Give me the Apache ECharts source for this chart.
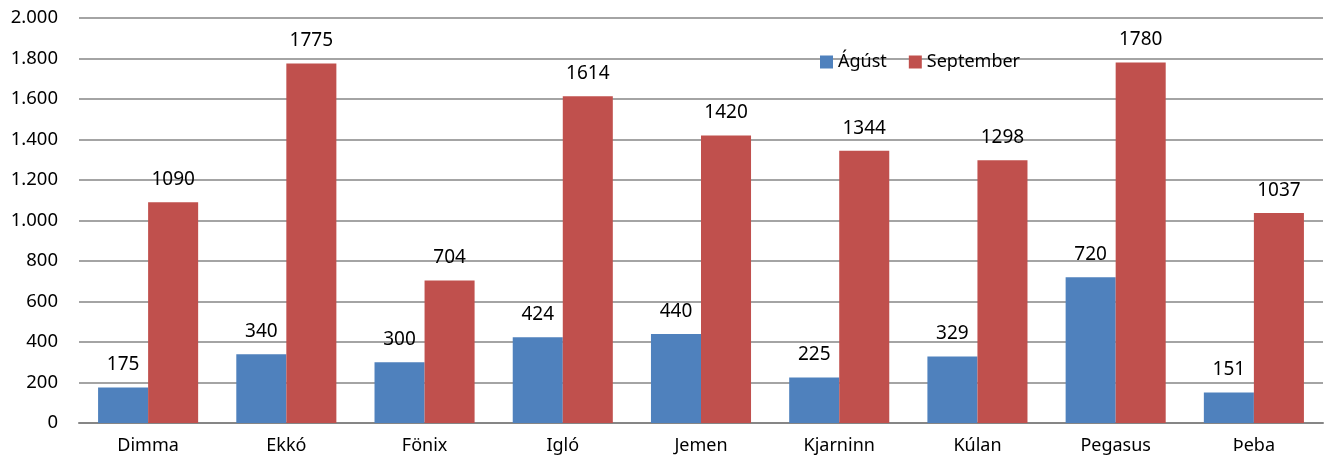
<!DOCTYPE html>
<html><head><meta charset="utf-8">
<script src="https://cdn.jsdelivr.net/npm/echarts@6/dist/echarts.min.js"></script>
<style>html,body{margin:0;padding:0;background:#fff}#c{width:1327px;height:462px}</style>
</head><body><div id="c"></div>
<script>
const categories = ["Dimma","Ekkó","Fönix","Igló","Jemen","Kjarninn","Kúlan","Pegasus","Þeba"];
const agust = [175,340,300,424,440,225,329,720,151];
const september = [1090,1775,704,1614,1420,1344,1298,1780,1037];
const seriesNames = ["Ágúst","September"];
const yTicks = {min:0, max:2000, interval:200};

const font = "Noto Sans";
const chart = echarts.init(document.getElementById('c'));
const lbl = {show:true, position:'top', distance:13, color:'#000', fontFamily:font, fontSize:19};
chart.setOption({
  animation:false,
  textStyle:{fontFamily:font},
  legend:{left:815, top:48, itemWidth:13, itemHeight:13, itemGap:22, icon:'rect',
    textStyle:{fontFamily:font, fontSize:18, color:'#000'},
    data:seriesNames},
  grid:{left:79, right:4, top:18, bottom:39},
  xAxis:{type:'category', data:categories,
    axisLine:{lineStyle:{color:'#868686', width:2}},
    axisTick:{show:false},
    axisLabel:{color:'#000', fontFamily:font, fontSize:18, margin:14}},
  yAxis:{type:'value', min:yTicks.min, max:yTicks.max, interval:yTicks.interval,
    axisLine:{show:false}, axisTick:{show:false},
    splitLine:{lineStyle:{color:'#868686', width:1.5}},
    axisLabel:{color:'#000', fontFamily:font, fontSize:18.5, margin:21,
      formatter:v=>String(v).replace(/\B(?=(\d{3})+(?!\d))/g,'.')}},
  series:[
    {name:seriesNames[0], type:'bar', data:agust, itemStyle:{color:'#4F81BD'}, barGap:'0%', barCategoryGap:'27.6%', label:lbl},
    {name:seriesNames[1], type:'bar', data:september, itemStyle:{color:'#C0504D'}, barGap:'0%', barCategoryGap:'27.6%', label:lbl}
  ]
});
</script></body></html>
